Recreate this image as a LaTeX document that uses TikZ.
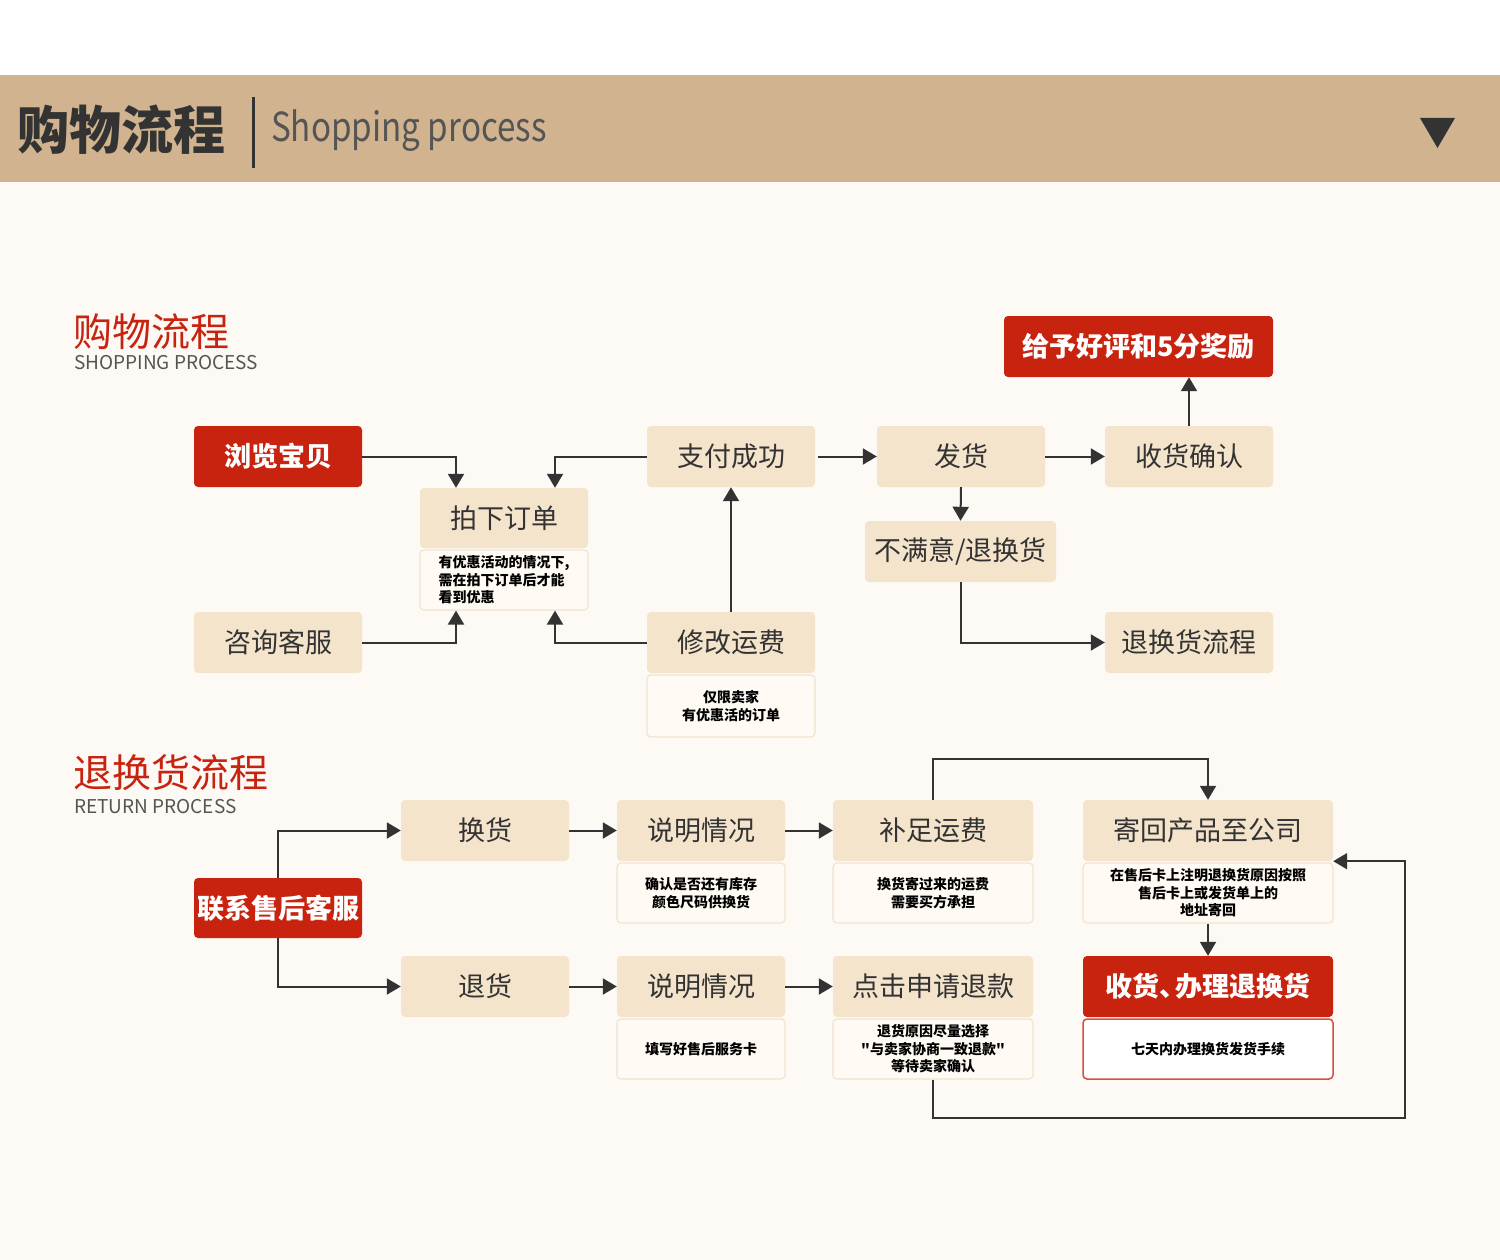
\documentclass[tikz,border=0pt]{standalone}
\usepackage{fontspec}
\setmainfont{Noto Sans CJK SC}
\newfontfamily\myqfont{Noto Sans CJK SC}[Ligatures=TeXOff]
\usetikzlibrary{arrows.meta}
\definecolor{bandc}{HTML}{D1B48F}
\definecolor{bgc}{HTML}{FDF9F4}
\definecolor{tanc}{HTML}{F4E4CB}
\definecolor{redc}{HTML}{C8230F}
\definecolor{subfill}{HTML}{FFFAF4}
\definecolor{subdraw}{HTML}{F1E3CF}
\definecolor{txtc}{HTML}{333333}
\definecolor{linec}{HTML}{333333}
\definecolor{grayc}{HTML}{555555}
\newcommand\myfmain{\fontsize{27}{32}\selectfont}
\newcommand\myfsmall{\fontsize{14}{17.5}\selectfont}
\newcommand\myquote{{\myqfont\bfseries"}}
\begin{document}
\begin{tikzpicture}[x=1pt,y=-1pt,
  basebox/.style={rectangle, rounded corners=4pt, minimum width=168pt, minimum height=61pt, inner sep=0pt, text=txtc, font=\myfmain},
  tanbox/.style={basebox, fill=tanc},
  redbox/.style={basebox, fill=redc, text=white, font=\myfmain\bfseries},
  subbox/.style={rectangle, rounded corners=4pt, fill=subfill, draw=subdraw, line width=1.2pt, minimum width=168pt, minimum height=60pt, inner sep=2pt, font=\myfsmall\bfseries, align=center, text=black},
  arr/.style={draw=linec, line width=2pt, -{Triangle[width=16pt,length=14pt]}}
]
\useasboundingbox (0,0) rectangle (1500,1260);
\fill[white] (0,0) rectangle (1500,75);
\fill[bgc] (0,182) rectangle (1500,1260);
\fill[bandc] (0,75) rectangle (1500,182);
% header
\node[anchor=west, inner sep=0pt, text=txtc, font=\fontsize{52}{60}\selectfont\bfseries] (htitle) at (17,130) {购物流程};
\draw[line width=3pt, txtc] (253,97) -- (253,168);
\node[anchor=west, inner sep=0pt, text=grayc, font=\fontsize{40}{46}\selectfont] (hsub) at (271,131) {\scalebox{0.83}[1]{Shopping process}};
\fill[txtc] (1420,118) -- (1455,118) -- (1437.5,148) -- cycle;
% section 1 title
\node[anchor=west, inner sep=0pt, text=redc, font=\fontsize{39}{45}\selectfont] (s1a) at (73,332) {购物流程};
\node[anchor=west, inner sep=0pt, text=grayc, font=\fontsize{19}{22}\selectfont] (s1b) at (74,363) {SHOPPING PROCESS};
% section 1 nodes
\node[redbox] (browse) at (278,456.5) {浏览宝贝};
\node[tanbox] (consult) at (278,642.5) {咨询客服};
\node[tanbox, minimum height=60pt] (order) at (504,518) {拍下订单};
\node[subbox, align=left] (orderS) at (504,580) {有优惠活动的情况下,\\需在拍下订单后才能\\看到优惠};
\node[tanbox] (pay) at (731,456.5) {支付成功};
\node[tanbox] (modify) at (731,642.5) {修改运费};
\node[subbox, minimum height=62pt] (modifyS) at (731,706) {仅限卖家\\有优惠活的订单};
\node[tanbox] (ship) at (961,456.5) {发货};
\node[tanbox] (confirm) at (1189,456.5) {收货确认};
\node[redbox, minimum width=269pt] (praise) at (1138.5,346.5) {给予好评和5分奖励};
\node[tanbox, minimum width=191pt] (unsat) at (960.5,551.5) {不满意/退换货};
\node[tanbox] (retflow) at (1189,642.5) {退换货流程};
% section 1 arrows
\draw[arr] (browse.east) -| ([xshift=-48pt]order.north);
\draw[arr] (pay.west) -| ([xshift=51pt]order.north);
\draw[arr] (consult.east) -| ([xshift=-48pt]orderS.south);
\draw[arr] (modify.west) -| ([xshift=51pt]orderS.south);
\draw[arr] (modify.north) -- (pay.south);
\draw[arr] ([xshift=3pt]pay.east) -- (ship.west);
\draw[arr] (ship.east) -- (confirm.west);
\draw[arr] (confirm.north) -- (confirm.north |- praise.south);
\draw[arr] (ship.south) -- (unsat.north);
\draw[arr] (unsat.south) |- (retflow.west);
% section 2 title
\node[anchor=west, inner sep=0pt, text=redc, font=\fontsize{39}{45}\selectfont] (s2a) at (73,773) {退换货流程};
\node[anchor=west, inner sep=0pt, text=grayc, font=\fontsize{19}{22}\selectfont] (s2b) at (74,807) {RETURN PROCESS};
% section 2 nodes
\node[redbox, minimum height=60pt] (contact) at (278,908) {联系售后客服};
\node[tanbox] (exch) at (485,830.5) {换货};
\node[tanbox] (ret) at (485,986.5) {退货};
\node[tanbox] (expl1) at (701,830.5) {说明情况};
\node[subbox] (expl1S) at (701,893) {确认是否还有库存\\颜色尺码供换货};
\node[tanbox, minimum width=200pt] (fee) at (933,830.5) {补足运费};
\node[subbox, minimum width=200pt] (feeS) at (933,893) {换货寄过来的运费\\需要买方承担};
\node[tanbox, minimum width=250pt] (sendback) at (1208,830.5) {寄回产品至公司};
\node[subbox, minimum width=250pt] (sendS) at (1208,893) {在售后卡上注明退换货原因按照\\售后卡上或发货单上的\\地址寄回};
\node[tanbox] (expl2) at (701,986.5) {说明情况};
\node[subbox] (expl2S) at (701,1049) {填写好售后服务卡};
\node[tanbox, minimum width=200pt] (refund) at (933,986.5) {点击申请退款};
\node[subbox, minimum width=200pt] (refundS) at (933,1049) {退货原因尽量选择\\\myquote 与卖家协商一致退款\myquote\\等待卖家确认};
\node[redbox, minimum width=250pt] (handle) at (1208,986.5) {收货、\kern-0.4em办理退换货};
\node[subbox, minimum width=250pt, fill=white, draw=redc!80, line width=1.5pt] (handleS) at (1208,1049) {七天内办理换货发货手续};
% section 2 arrows
\draw[arr] (contact.north) |- (exch.west);
\draw[arr] (contact.south) |- (ret.west);
\draw[arr] (exch.east) -- (expl1.west);
\draw[arr] (expl1.east) -- (fee.west);
\draw[arr] (ret.east) -- (expl2.west);
\draw[arr] (expl2.east) -- (refund.west);
\draw[arr] (fee.north) -- ++(0,-41) -| (sendback.north);
\draw[arr] (sendS.south) -- (handle.north);
\draw[arr] (refundS.south) -- ++(0,38) -| ([xshift=72pt]sendback.south east) -- (sendback.south east);
\end{tikzpicture}
\end{document}
